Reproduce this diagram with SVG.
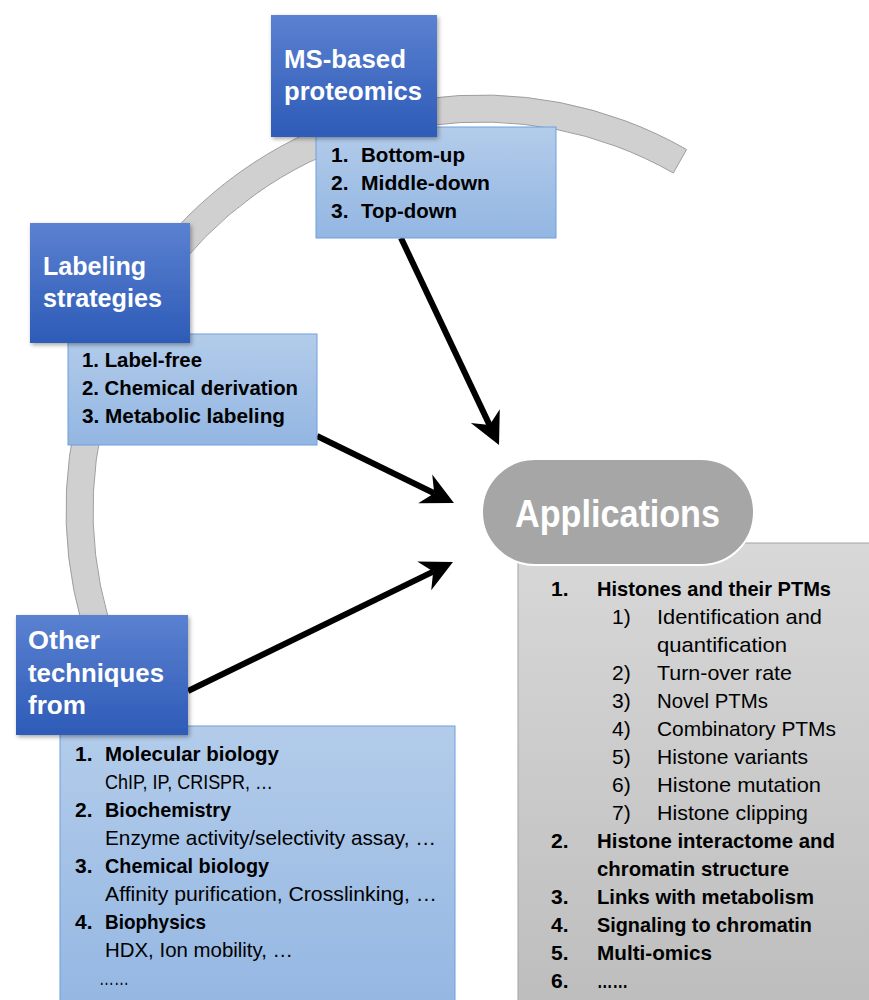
<svg xmlns="http://www.w3.org/2000/svg" width="869" height="1000" viewBox="0 0 869 1000">
<defs>
<linearGradient id="dark" x1="0" y1="0" x2="0" y2="1"><stop offset="0" stop-color="#5b81d1"/><stop offset="1" stop-color="#2d5bb7"/></linearGradient>
<linearGradient id="light" x1="0" y1="0" x2="0" y2="1"><stop offset="0" stop-color="#b3ccea"/><stop offset="1" stop-color="#93b6e2"/></linearGradient>
<linearGradient id="grey" x1="0" y1="0" x2="0" y2="1"><stop offset="0" stop-color="#d8d8d8"/><stop offset="1" stop-color="#bdbdbd"/></linearGradient>
<filter id="sh" x="-10%" y="-10%" width="130%" height="130%"><feDropShadow dx="1.5" dy="2" stdDeviation="2" flood-color="#000" flood-opacity="0.35"/></filter>
<marker id="stealth" markerUnits="userSpaceOnUse" viewBox="-12 -18 36 36" markerWidth="36" markerHeight="36" refX="0" refY="0" orient="auto" overflow="visible">
<path d="M22,0 L-10,-16 L0,0 L-10,16 Z" fill="#000"/>
</marker>
</defs>
<style>
.t{font-family:"Liberation Sans",Arial,sans-serif;}
.title{font-family:"Liberation Sans",Arial,sans-serif;font-weight:bold;font-size:26px;fill:#fff;}
.b{font-family:"Liberation Sans",Arial,sans-serif;font-weight:bold;font-size:21px;fill:#000;}
.r{font-family:"Liberation Sans",Arial,sans-serif;font-size:21px;fill:#000;}
.dark{fill:url(#dark);filter:url(#sh);}
.light{fill:url(#light);stroke:#6ea0dc;stroke-width:1;}
.arrow{stroke:#000;stroke-width:6;fill:none;marker-end:url(#stealth);}
</style>
<rect width="869" height="1000" fill="#fff"/>
<g id="cycle-arc">
<path d="M686.6,149.5 A415,415 0 0 0 121.6,717.5 L145,704 A388,388 0 0 1 673.3,173 Z" fill="#d0d0d0" stroke="#9e9e9e" stroke-width="1"/>
</g>
<g id="connectors">
<line class="arrow" x1="401" y1="238" x2="489.6" y2="425.1"/>
<line class="arrow" x1="317" y1="436" x2="434.2" y2="493.3"/>
<line class="arrow" x1="188" y1="691" x2="433.2" y2="571.6"/>
</g>
<g id="ms-list">
<rect class="light" x="316" y="127" width="240" height="111"/>
<text class="b" x="331" y="162">1.</text><text class="b" x="361" y="162" textLength="104" lengthAdjust="spacingAndGlyphs">Bottom-up</text>
<text class="b" x="331" y="190">2.</text><text class="b" x="361" y="190" textLength="129" lengthAdjust="spacingAndGlyphs">Middle-down</text>
<text class="b" x="331" y="218">3.</text><text class="b" x="361" y="218" textLength="96" lengthAdjust="spacingAndGlyphs">Top-down</text>
</g>
<g id="ms-proteomics">
<rect class="dark" x="271" y="15" width="166" height="122"/>
<text class="title" x="284" y="68" textLength="122" lengthAdjust="spacingAndGlyphs">MS-based</text>
<text class="title" x="284" y="100" textLength="138" lengthAdjust="spacingAndGlyphs">proteomics</text>
</g>
<g id="labeling-list">
<rect class="light" x="68" y="334" width="249" height="111"/>
<text class="b" x="82" y="367" textLength="120" lengthAdjust="spacingAndGlyphs">1. Label-free</text>
<text class="b" x="82" y="395" textLength="216" lengthAdjust="spacingAndGlyphs">2. Chemical derivation</text>
<text class="b" x="82" y="423" textLength="203" lengthAdjust="spacingAndGlyphs">3. Metabolic labeling</text>
</g>
<g id="labeling-strategies">
<rect class="dark" x="30" y="223" width="160" height="120"/>
<text class="title" x="43" y="275" textLength="103" lengthAdjust="spacingAndGlyphs">Labeling</text>
<text class="title" x="43" y="307" textLength="119" lengthAdjust="spacingAndGlyphs">strategies</text>
</g>
<g id="other-list">
<rect class="light" x="60" y="726" width="395" height="290"/>
<text class="b" x="75" y="761">1.</text><text class="b" x="105" y="761" textLength="174" lengthAdjust="spacingAndGlyphs">Molecular biology</text>
<text class="r" x="105" y="789" textLength="168" lengthAdjust="spacingAndGlyphs">ChIP, IP, CRISPR, …</text>
<text class="b" x="75" y="817">2.</text><text class="b" x="105" y="817" textLength="126" lengthAdjust="spacingAndGlyphs">Biochemistry</text>
<text class="r" x="105" y="845" textLength="331" lengthAdjust="spacingAndGlyphs">Enzyme activity/selectivity assay, …</text>
<text class="b" x="75" y="873">3.</text><text class="b" x="105" y="873" textLength="164" lengthAdjust="spacingAndGlyphs">Chemical biology</text>
<text class="r" x="105" y="901" textLength="332" lengthAdjust="spacingAndGlyphs">Affinity purification, Crosslinking, …</text>
<text class="b" x="75" y="929">4.</text><text class="b" x="105" y="929" textLength="101" lengthAdjust="spacingAndGlyphs">Biophysics</text>
<text class="r" x="105" y="957" textLength="188" lengthAdjust="spacingAndGlyphs">HDX, Ion mobility, …</text>
<text class="r" x="99" y="985" textLength="30" lengthAdjust="spacingAndGlyphs">……</text>
</g>
<g id="other-techniques">
<rect class="dark" x="16" y="615" width="172" height="120"/>
<text class="title" x="28" y="649" textLength="72" lengthAdjust="spacingAndGlyphs">Other</text>
<text class="title" x="28" y="682" textLength="136" lengthAdjust="spacingAndGlyphs">techniques</text>
<text class="title" x="28" y="714" textLength="58" lengthAdjust="spacingAndGlyphs">from</text>
</g>
<g id="applications-list">
<rect x="518" y="543" width="362" height="470" fill="url(#grey)" stroke="#a3a3a3" stroke-width="1"/>
<text class="b" x="551" y="596">1.</text><text class="b" x="597" y="596" textLength="234" lengthAdjust="spacingAndGlyphs">Histones and their PTMs</text>
<text class="r" x="612" y="624">1)</text><text class="r" x="657" y="624" textLength="165" lengthAdjust="spacingAndGlyphs">Identification and</text>
<text class="r" x="657" y="652" textLength="130" lengthAdjust="spacingAndGlyphs">quantification</text>
<text class="r" x="612" y="680">2)</text><text class="r" x="657" y="680" textLength="135" lengthAdjust="spacingAndGlyphs">Turn-over rate</text>
<text class="r" x="612" y="708">3)</text><text class="r" x="657" y="708" textLength="111" lengthAdjust="spacingAndGlyphs">Novel PTMs</text>
<text class="r" x="612" y="736">4)</text><text class="r" x="657" y="736" textLength="179" lengthAdjust="spacingAndGlyphs">Combinatory PTMs</text>
<text class="r" x="612" y="764">5)</text><text class="r" x="657" y="764" textLength="151" lengthAdjust="spacingAndGlyphs">Histone variants</text>
<text class="r" x="612" y="792">6)</text><text class="r" x="657" y="792" textLength="164" lengthAdjust="spacingAndGlyphs">Histone mutation</text>
<text class="r" x="612" y="820">7)</text><text class="r" x="657" y="820" textLength="151" lengthAdjust="spacingAndGlyphs">Histone clipping</text>
<text class="b" x="551" y="848">2.</text><text class="b" x="597" y="848" textLength="238" lengthAdjust="spacingAndGlyphs">Histone interactome and</text>
<text class="b" x="597" y="876" textLength="192" lengthAdjust="spacingAndGlyphs">chromatin structure</text>
<text class="b" x="551" y="904">3.</text><text class="b" x="597" y="904" textLength="217" lengthAdjust="spacingAndGlyphs">Links with metabolism</text>
<text class="b" x="551" y="932">4.</text><text class="b" x="597" y="932" textLength="215" lengthAdjust="spacingAndGlyphs">Signaling to chromatin</text>
<text class="b" x="551" y="960">5.</text><text class="b" x="597" y="960" textLength="115" lengthAdjust="spacingAndGlyphs">Multi-omics</text>
<text class="b" x="551" y="988">6.</text><text class="b" x="597" y="988" textLength="31" lengthAdjust="spacingAndGlyphs">……</text>
</g>
<g id="applications">
<rect x="482" y="459" width="272" height="106" rx="53" ry="53" fill="#a6a6a6" stroke="#fff" stroke-width="2"/>
<text class="t" x="515" y="527" font-size="38" font-weight="bold" fill="#fff" textLength="205" lengthAdjust="spacingAndGlyphs">Applications</text>
</g>
</svg>
